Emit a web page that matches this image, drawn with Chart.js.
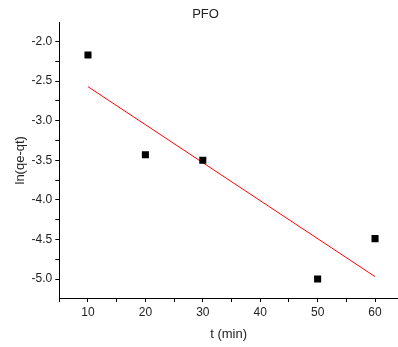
<!DOCTYPE html>
<html>
<head>
<meta charset="utf-8">
<script src="https://cdn.jsdelivr.net/npm/chart.js@4"></script>
<style>
  html, body { margin: 0; padding: 0; background: #fff; }
  #wrap { width: 398px; height: 347px; }
</style>
</head>
<body>
<div id="wrap"><canvas id="myChart" width="398" height="347"></canvas></div>
<script>
// measured points
const times = [10, 20, 30, 50, 60]
const lnValues = [-2.17, -3.43, -3.50, -5.00, -4.49]

// fitted line, read at its two ends
const fitTimes = [10, 60]
const fitValues = [-2.57, -4.97]

const points = times.map((t, i) => ({ x: t, y: lnValues[i] }))
const fitLine = fitTimes.map((t, i) => ({ x: t, y: fitValues[i] }))

const font = { family: 'Liberation Sans, Arial, sans-serif', size: 12 }
const titleFont = { family: font.family, size: 13, weight: 'normal' }

const ctx = document.getElementById('myChart').getContext('2d')

const data = {
    datasets: [{
        type: 'scatter',
        data: points,
        label: 'data',
        pointStyle: 'rect',
        pointRadius: 5,
        pointHoverRadius: 5,
        backgroundColor: '#000',
        borderColor: '#000',
        borderWidth: 0,
        order: 1
    },
    {
        type: 'line',
        data: fitLine,
        label: 'fit',
        borderColor: '#ff0000',
        borderWidth: 1,
        pointRadius: 0,
        fill: false,
        order: 2
    }]
}

const config = {
    type: 'scatter',
    data,
    options: {
        responsive: false,
        animation: false,
        layout: { autoPadding: false, padding: { left: 13, right: 0, top: 0, bottom: 5 } },
        plugins: {
            legend: { display: false },
            tooltip: { enabled: false },
            title: {
                display: true,
                text: 'PFO',
                color: '#222',
                font: titleFont,
                padding: { top: 7, bottom: 0 }
            }
        },
        scales: {
            x: {
                type: 'linear',
                min: 5,
                max: 64,
                border: { display: true, color: '#000', width: 1 },
                grid: { drawOnChartArea: false, drawTicks: true, tickLength: 4, color: '#000' },
                ticks: {
                    stepSize: 5,
                    includeBounds: false,
                    color: '#222',
                    font,
                    padding: 3,
                    maxRotation: 0,
                    callback: v => (v % 10 === 0 ? v : '')
                },
                title: { display: true, text: 't (min)', color: '#222', font: titleFont, padding: { top: 4, bottom: 0 } }
            },
            y: {
                type: 'linear',
                min: -5.24,
                max: -1.76,
                border: { display: true, color: '#000', width: 1 },
                grid: { drawOnChartArea: false, drawTicks: true, tickLength: 4, color: '#000' },
                ticks: {
                    stepSize: 0.25,
                    includeBounds: false,
                    color: '#222',
                    font,
                    padding: 3,
                    callback: v => (Math.abs(v * 2 - Math.round(v * 2)) < 1e-6 ? v.toFixed(1) : '')
                },
                title: { display: true, text: 'ln(qe-qt)', color: '#222', font: titleFont, padding: { top: 0, bottom: 0 } }
            }
        }
    }
}

const myChart = new Chart(ctx, config)
</script>
</body>
</html>
